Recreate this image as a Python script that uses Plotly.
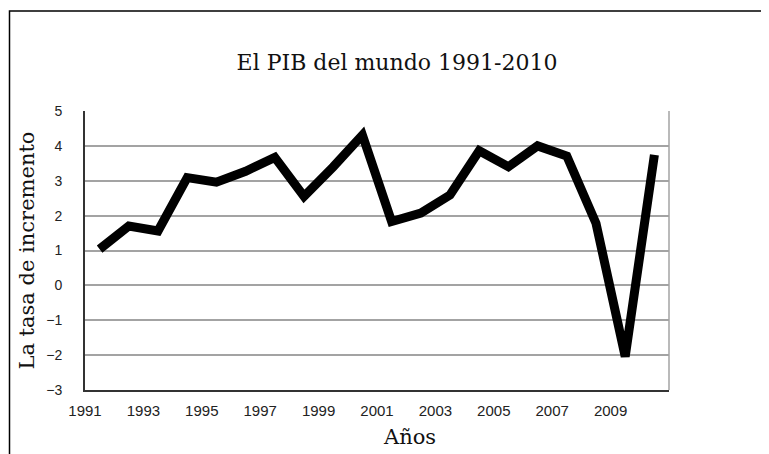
import plotly.graph_objects as go

years = list(range(1991, 2011))
growth = [1.04, 1.70, 1.56, 3.09, 2.96, 3.27, 3.67, 2.55, 3.40, 4.31,
          1.83, 2.07, 2.59, 3.86, 3.40, 4.00, 3.71, 1.78, -2.04, 3.74]
x_labels = [1991, 1993, 1995, 1997, 1999, 2001, 2003, 2005, 2007, 2009]
y_ticks = [-3, -2, -1, 0, 1, 2, 3, 4, 5]

title_text = "El PIB del mundo 1991-2010"
y_title = "La tasa de incremento"
x_title = "Años"

OFF = 8  # page body margin
W, H = 769 - OFF, 454 - OFF
L, T = 85 - OFF, 111 - OFF
pw, ph = 584, 279
R, B = W - L - pw, H - T - ph

serif = "DejaVu Serif"
sans = "Liberation Sans, Arial, sans-serif"

fig = go.Figure()
fig.add_trace(go.Scatter(
    x=years, y=growth, mode="lines",
    line=dict(color="black", width=9),
    showlegend=False, hoverinfo="skip",
))

fig.update_layout(
    width=W, height=H,
    margin=dict(l=L, r=R, t=T, b=B, autoexpand=False),
    paper_bgcolor="white", plot_bgcolor="white",
    title=dict(text=title_text, x=(397 - OFF) / W, xanchor="center",
               y=1 - (62 - OFF) / H, yanchor="middle",
               font=dict(family=serif, size=22, color="#111")),
    xaxis=dict(
        range=[years[0] - 0.5, years[-1] + 0.5],
        tickvals=[v - 0.5 for v in x_labels],
        ticktext=[str(v) for v in x_labels],
        showgrid=False, zeroline=False,
        showline=True, linecolor="#333", linewidth=2,
        ticks="", ticklabelstandoff=6,
        tickfont=dict(family=sans, size=15, color="#222"),
        automargin=False,
    ),
    yaxis=dict(
        range=[y_ticks[0], y_ticks[-1]],
        tickvals=y_ticks,
        showgrid=True, gridcolor="#a3a3a3", gridwidth=1.5,
        zeroline=False,
        showline=True, linecolor="#333", linewidth=2,
        ticks="", ticklabelstandoff=18,
        tickfont=dict(family=sans, size=14, color="#222"),
        title=dict(text=y_title, standoff=6,
                   font=dict(family=serif, size=21, color="#111")),
        automargin=False,
    ),
    annotations=[dict(
        text=x_title, xref="paper", yref="paper",
        x=(410 - 85) / pw, y=-(437 - 390) / ph,
        xanchor="center", yanchor="middle", showarrow=False,
        font=dict(family=serif, size=21, color="#111"),
    )],
    shapes=[
        dict(type="line", xref="paper", yref="paper", x0=1, x1=1, y0=0, y1=1,
             line=dict(color="#a3a3a3", width=1.5)),
        dict(type="rect", xref="paper", yref="paper",
             x0=-(L - 1.5) / pw, x1=1.3, y0=-0.4, y1=1 + (111 - 11) / ph,
             line=dict(color="black", width=1.5), fillcolor="rgba(0,0,0,0)"),
    ],
)

fig.write_html("out.html")
